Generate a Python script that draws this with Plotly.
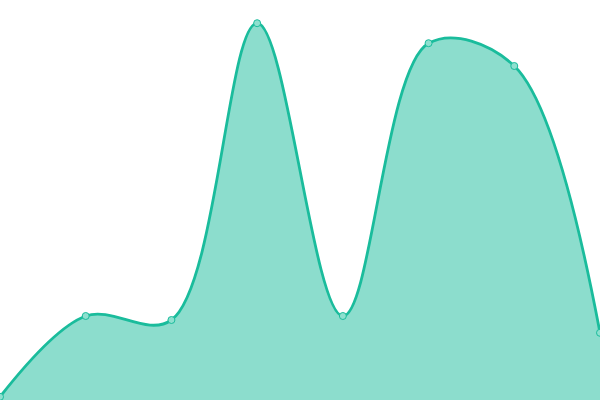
import plotly.graph_objects as go

# data
x_vals = [0, 1, 2, 3, 4, 5, 6, 7]
y_vals = [0.8, 21, 20, 94.2, 21, 89.2, 83.5, 16.8]

line_color = "#1abc9c"
fill_color = "rgba(26,188,156,0.5)"

fig = go.Figure()

fig.add_trace(go.Scatter(
    x=x_vals,
    y=y_vals,
    mode="lines+markers",
    fill="tozeroy",
    fillcolor=fill_color,
    line=dict(color=line_color, width=2.8, shape="spline", smoothing=1),
    marker=dict(size=7, color="#8ee0cf", line=dict(color=line_color, width=1)),
    hoverinfo="skip",
))

fig.update_xaxes(visible=False, range=[0, 7], fixedrange=True)
fig.update_yaxes(visible=False, range=[0, 100], fixedrange=True)

fig.update_layout(
    width=600,
    height=400,
    margin=dict(l=0, r=0, t=0, b=0),
    paper_bgcolor="white",
    plot_bgcolor="white",
    showlegend=False,
)

# drop the default page margin so the chart fills the window
fig.write_html(
    "out.html",
    config={"displayModeBar": False},
    post_script="document.body.style.margin='0';",
)
